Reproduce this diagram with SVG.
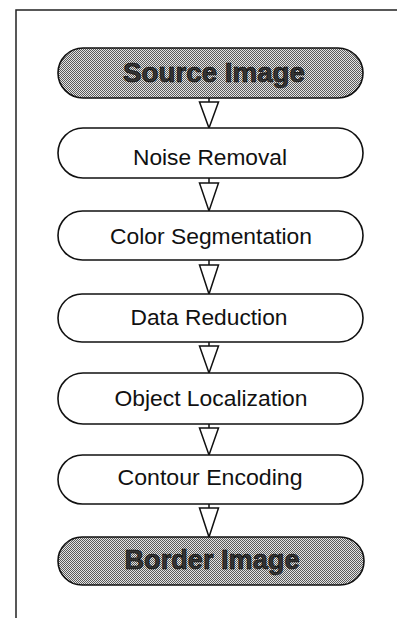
<svg xmlns="http://www.w3.org/2000/svg" width="397" height="618" viewBox="0 0 397 618">
<defs>
<pattern id="stip" width="2" height="2" patternUnits="userSpaceOnUse">
<rect width="2" height="2" fill="#e4e4e4"/>
<rect x="0" y="0" width="1" height="1" fill="#5a5a5a"/>
<rect x="1" y="1" width="1" height="1" fill="#5a5a5a"/>
</pattern>
</defs>
<style>
.frame{fill:none;stroke:#222;stroke-width:1.5}
.node{fill:#fff;stroke:#111;stroke-width:1.6}
.term{fill:url(#stip);stroke:#111;stroke-width:1.6}
.lbl{font-family:"Liberation Sans",Arial,sans-serif;font-size:22.5px;fill:#111;text-anchor:middle}
.tl{font-family:"Liberation Sans",Arial,sans-serif;font-size:27px;font-weight:bold;fill:#333;stroke:#000;stroke-width:0.6;text-anchor:middle}
.arr{fill:#fff;stroke:#111;stroke-width:1.5;stroke-linejoin:miter}
.stem{stroke:#111;stroke-width:1.5}
</style>
<rect width="397" height="618" fill="#fff"/>
<path class="frame" d="M16,618 V10 H397"/>
<g id="connectors">
<line class="stem" x1="209" y1="98" x2="209" y2="102"/>
<polygon class="arr" points="199.5,102 218.5,102 209,128"/>
<line class="stem" x1="209" y1="178" x2="209" y2="183"/>
<polygon class="arr" points="199.5,183 218.5,183 209,211"/>
<line class="stem" x1="209" y1="260" x2="209" y2="265"/>
<polygon class="arr" points="199.5,265 218.5,265 209,294"/>
<line class="stem" x1="209" y1="342" x2="209" y2="346"/>
<polygon class="arr" points="199.5,346 218.5,346 209,373"/>
<line class="stem" x1="209" y1="424" x2="209" y2="428"/>
<polygon class="arr" points="199.5,428 218.5,428 209,455"/>
<line class="stem" x1="209" y1="504" x2="209" y2="508"/>
<polygon class="arr" points="199.5,508 218.5,508 209,537"/>
</g>
<g id="source">
<rect class="term" x="58" y="48" width="305" height="50" rx="25"/>
<text class="tl" x="214" y="82" textLength="182" lengthAdjust="spacingAndGlyphs">Source Image</text>
</g>
<g id="noise">
<rect class="node" x="58" y="128" width="305" height="50" rx="25"/>
<text class="lbl" x="210" y="165" textLength="154" lengthAdjust="spacingAndGlyphs">Noise Removal</text>
</g>
<g id="color">
<rect class="node" x="58" y="211" width="305" height="49" rx="24.5"/>
<text class="lbl" x="211" y="244" textLength="202" lengthAdjust="spacingAndGlyphs">Color Segmentation</text>
</g>
<g id="data">
<rect class="node" x="58" y="294" width="305" height="48" rx="24"/>
<text class="lbl" x="209" y="325" textLength="157" lengthAdjust="spacingAndGlyphs">Data Reduction</text>
</g>
<g id="object">
<rect class="node" x="58" y="373" width="305" height="51" rx="25"/>
<text class="lbl" x="211" y="406" textLength="193" lengthAdjust="spacingAndGlyphs">Object Localization</text>
</g>
<g id="contour">
<rect class="node" x="58" y="455" width="305" height="49" rx="24.5"/>
<text class="lbl" x="210" y="485" textLength="185" lengthAdjust="spacingAndGlyphs">Contour Encoding</text>
</g>
<g id="border">
<rect class="term" x="58" y="537" width="306" height="48" rx="24"/>
<text class="tl" x="212" y="569" textLength="175" lengthAdjust="spacingAndGlyphs">Border Image</text>
</g>
</svg>
